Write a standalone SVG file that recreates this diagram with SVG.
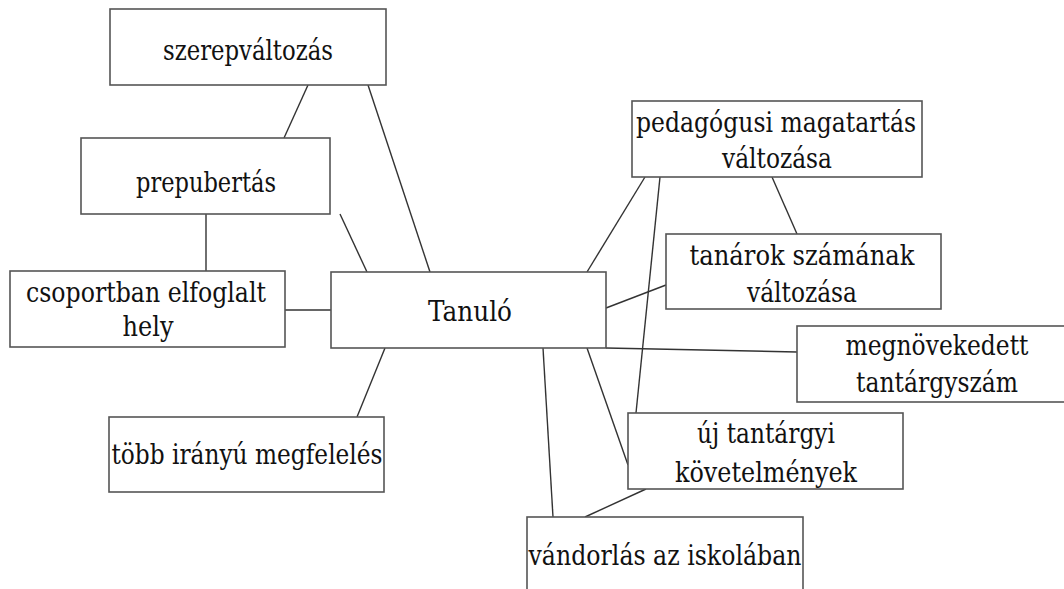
<svg xmlns="http://www.w3.org/2000/svg" width="1064" height="589" viewBox="0 0 1064 589">
<style>
.box{fill:#fff;stroke:#555;stroke-width:1.6}
.t{font-family:'DejaVu Serif','Liberation Serif','Noto Serif','Times New Roman',serif;font-size:28px;fill:#111;text-anchor:middle}
.c line{stroke:#333;stroke-width:1.4}
</style>
<rect width="1064" height="589" fill="#fff"/>
<g class="c" id="connectors">
<line x1="308" y1="85" x2="284" y2="138"/>
<line x1="368" y1="85" x2="430" y2="272"/>
<line x1="340" y1="214" x2="367" y2="272"/>
<line x1="206" y1="214" x2="206" y2="271"/>
<line x1="285" y1="310" x2="331" y2="310"/>
<line x1="385" y1="348" x2="357" y2="417"/>
<line x1="587" y1="272" x2="645" y2="177"/>
<line x1="660" y1="177" x2="636" y2="413"/>
<line x1="772" y1="177" x2="797" y2="234"/>
<line x1="606" y1="308" x2="666" y2="285"/>
<line x1="606" y1="348" x2="797" y2="352"/>
<line x1="543" y1="348" x2="553" y2="517"/>
<line x1="587" y1="348" x2="628" y2="465"/>
<line x1="646" y1="489" x2="585" y2="517"/>
</g>
<g id="szerepvaltozas"><rect class="box" x="110" y="9" width="276" height="76"/><text class="t" x="248" y="60" textLength="170" lengthAdjust="spacingAndGlyphs">szerepváltozás</text></g>
<g id="prepubertas"><rect class="box" x="81" y="138" width="249" height="76"/><text class="t" x="206" y="192" textLength="140" lengthAdjust="spacingAndGlyphs">prepubertás</text></g>
<g id="csoportban"><rect class="box" x="10" y="271" width="275" height="76"/><text class="t" x="146" y="302" textLength="240" lengthAdjust="spacingAndGlyphs">csoportban elfoglalt</text><text class="t" x="148" y="336" textLength="51" lengthAdjust="spacingAndGlyphs">hely</text></g>
<g id="tanulo"><rect class="box" x="331" y="272" width="275" height="76"/><text class="t" x="470" y="321" textLength="84" lengthAdjust="spacingAndGlyphs">Tanuló</text></g>
<g id="tobb"><rect class="box" x="109" y="417" width="275" height="75"/><text class="t" x="247" y="464" textLength="271" lengthAdjust="spacingAndGlyphs">több irányú megfelelés</text></g>
<g id="pedagogusi"><rect class="box" x="632" y="101" width="290" height="76"/><text class="t" x="776" y="132" textLength="280" lengthAdjust="spacingAndGlyphs">pedagógusi magatartás</text><text class="t" x="777" y="168" textLength="110" lengthAdjust="spacingAndGlyphs">változása</text></g>
<g id="tanarok"><rect class="box" x="666" y="234" width="275" height="75"/><text class="t" x="802" y="265" textLength="225" lengthAdjust="spacingAndGlyphs">tanárok számának</text><text class="t" x="802" y="302" textLength="110" lengthAdjust="spacingAndGlyphs">változása</text></g>
<g id="megnovekedett"><rect class="box" x="797" y="326" width="280" height="76"/><text class="t" x="937" y="355" textLength="183" lengthAdjust="spacingAndGlyphs">megnövekedett</text><text class="t" x="937" y="392" textLength="162" lengthAdjust="spacingAndGlyphs">tantárgyszám</text></g>
<g id="uj"><rect class="box" x="628" y="413" width="275" height="76"/><text class="t" x="766" y="443" textLength="138" lengthAdjust="spacingAndGlyphs">új tantárgyi</text><text class="t" x="766" y="482" textLength="182" lengthAdjust="spacingAndGlyphs">követelmények</text></g>
<g id="vandorlas"><rect class="box" x="527" y="517" width="276" height="80"/><text class="t" x="665" y="565" textLength="273" lengthAdjust="spacingAndGlyphs">vándorlás az iskolában</text></g>
</svg>
